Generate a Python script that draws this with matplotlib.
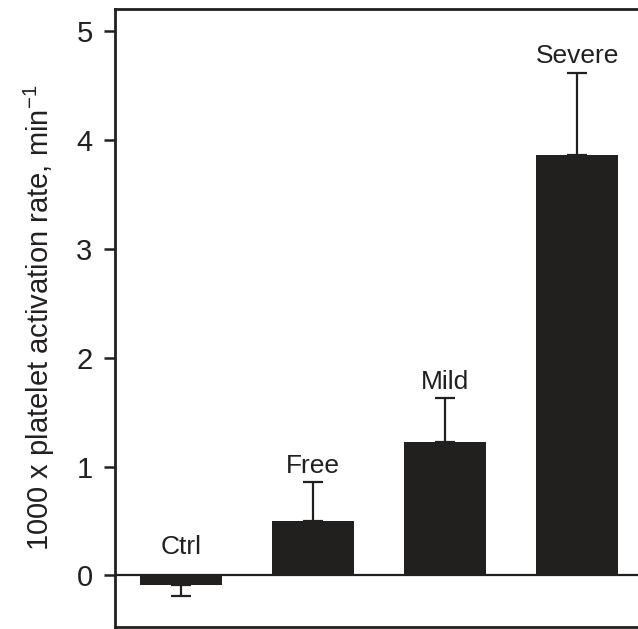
import matplotlib
matplotlib.use("Agg")
import matplotlib.pyplot as plt

plt.rcParams['font.family'] = ['Liberation Sans', 'DejaVu Sans']

groups = ["Ctrl", "Free", "Mild", "Severe"]
means = [-0.09, 0.50, 1.23, 3.86]
errs = [0.10, 0.36, 0.40, 0.76]


def main():
    fig = plt.figure(figsize=(6.38, 6.29), dpi=100)
    ax = fig.add_axes([0.180, 0.003, 0.82, 0.982])

    x = list(range(len(groups)))
    ax.bar(x, means, width=0.62, color="#221f1f", zorder=2)

    # one-sided error bars: down for negative bars, up otherwise
    for xi, m, e in zip(x, means, errs):
        lo, hi = (e, 0) if m < 0 else (0, e)
        ax.errorbar(xi, m, yerr=[[lo], [hi]], fmt="none", ecolor="#221f1f",
                    elinewidth=1.6, capsize=7, capthick=1.6, zorder=3)

    ax.axhline(0, color="#221f1f", lw=1.6, zorder=1)

    # group labels above the bars / error caps
    for xi, m, e, name in zip(x, means, errs, groups):
        top = m + e if m > 0 else 0
        off = 3 if m > 0 else 12
        ax.annotate(name, (xi, top), xytext=(0, off), textcoords="offset points",
                    ha="center", va="bottom", fontsize=19, color="#221f1f")

    ax.set_xlim(-0.5, 3.46)
    ax.set_ylim(-0.475, 5.2)
    ax.set_yticks([0, 1, 2, 3, 4, 5])
    ax.set_xticks([])
    ax.tick_params(axis="y", direction="out", length=8, width=1.8,
                   labelsize=21, pad=8, colors="#221f1f")
    ax.set_ylabel("1000 x platelet activation rate, min$^{\\mathregular{-1}}$",
                  fontsize=21, color="#221f1f", labelpad=14)

    for side in ["left", "top", "bottom"]:
        ax.spines[side].set_linewidth(2.0)
        ax.spines[side].set_color("#221f1f")
    ax.spines["right"].set_visible(False)

    fig.savefig("out.png", dpi=100)
    plt.close(fig)


if __name__ == "__main__":
    main()
